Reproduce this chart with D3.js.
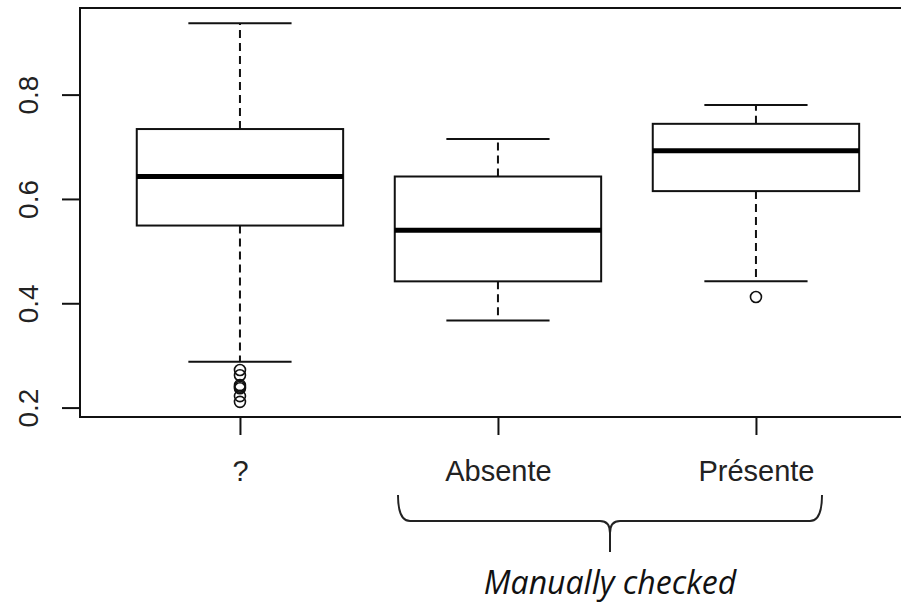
<!DOCTYPE html>
<html>
<head>
<meta charset="utf-8">
<script src="https://cdn.jsdelivr.net/npm/d3@7"></script>
<style>
  html, body { margin: 0; padding: 0; background: #fff; }
  svg { display: block; }
</style>
</head>
<body>
<svg id="chart" width="901" height="602"></svg>
<script>
// Five-number summaries per group (whisker ends, quartiles, median)
const categories   = ["?", "Absente", "Présente"];
const whiskerLow   = [0.288, 0.367, 0.442];
const q1           = [0.549, 0.442, 0.615];
const median       = [0.643, 0.540, 0.6925];
const q3           = [0.734, 0.643, 0.744];
const whiskerHigh  = [0.937, 0.715, 0.780];
const outliers     = [[0.272, 0.262, 0.243, 0.240, 0.237, 0.222, 0.211], [], [0.412]];
const yTicks       = [0.2, 0.4, 0.6, 0.8];
const groupCaption = "Manually checked";

const svg = d3.select("#chart");

// Plot region (right side runs past the canvas edge)
const plotLeft = 80, plotTop = 8, plotBottom = 417, step = 258;

// y domain: data range padded by 4% on each side
const allVals = whiskerLow.concat(whiskerHigh, outliers.flat());
const yMin = d3.min(allVals), yMax = d3.max(allVals);
const pad = (yMax - yMin) * 0.04;
const y = d3.scaleLinear().domain([yMin - pad, yMax + pad]).range([plotBottom, plotTop]);

// x domain: group positions 1..n with padding
const n = categories.length;
const x = d3.scaleLinear().domain([0.38, n + 0.62]).range([plotLeft, plotLeft + (n + 0.24) * step]);

const boxHalf = 0.4, capHalf = 0.2;
const ink = "#111";

const groups = categories.map((c, i) => ({
  name: c, pos: i + 1,
  lo: whiskerLow[i], q1: q1[i], med: median[i], q3: q3[i], hi: whiskerHigh[i],
  out: outliers[i]
}));

const g = svg.append("g");

// whiskers (dashed)
g.selectAll(".whisker-up").data(groups).enter().append("line")
  .attr("x1", d => x(d.pos)).attr("x2", d => x(d.pos))
  .attr("y1", d => y(d.q3)).attr("y2", d => y(d.hi))
  .attr("stroke", ink).attr("stroke-width", 2).attr("stroke-dasharray", "8,5");
g.selectAll(".whisker-down").data(groups).enter().append("line")
  .attr("x1", d => x(d.pos)).attr("x2", d => x(d.pos))
  .attr("y1", d => y(d.q1)).attr("y2", d => y(d.lo))
  .attr("stroke", ink).attr("stroke-width", 2).attr("stroke-dasharray", "8,5");

// whisker caps
["hi", "lo"].forEach(k => {
  g.selectAll(".cap-" + k).data(groups).enter().append("line")
    .attr("x1", d => x(d.pos - capHalf)).attr("x2", d => x(d.pos + capHalf))
    .attr("y1", d => y(d[k])).attr("y2", d => y(d[k]))
    .attr("stroke", ink).attr("stroke-width", 2);
});

// boxes
g.selectAll(".box").data(groups).enter().append("rect")
  .attr("x", d => x(d.pos - boxHalf))
  .attr("width", d => x(d.pos + boxHalf) - x(d.pos - boxHalf))
  .attr("y", d => y(d.q3))
  .attr("height", d => y(d.q1) - y(d.q3))
  .attr("fill", "#fff").attr("stroke", ink).attr("stroke-width", 2);

// medians
g.selectAll(".median").data(groups).enter().append("line")
  .attr("x1", d => x(d.pos - boxHalf)).attr("x2", d => x(d.pos + boxHalf))
  .attr("y1", d => y(d.med)).attr("y2", d => y(d.med))
  .attr("stroke", "#000").attr("stroke-width", 5);

// outlier points
groups.forEach(d => {
  g.selectAll(null).data(d.out).enter().append("circle")
    .attr("cx", x(d.pos)).attr("cy", v => y(v)).attr("r", 5.5)
    .attr("fill", "none").attr("stroke", ink).attr("stroke-width", 1.6);
});

// frame
svg.append("rect")
  .attr("x", plotLeft).attr("y", plotTop)
  .attr("width", x(n + 0.62) - plotLeft).attr("height", plotBottom - plotTop)
  .attr("fill", "none").attr("stroke", ink).attr("stroke-width", 2);

// y axis: ticks and rotated labels
const yAxis = svg.append("g").attr("transform", `translate(${plotLeft},0)`)
  .call(d3.axisLeft(y).tickValues(yTicks).tickSize(18).tickFormat(d3.format(".1f")));
yAxis.select(".domain").remove();
yAxis.selectAll(".tick line").attr("stroke", ink).attr("stroke-width", 2);
yAxis.selectAll(".tick text")
  .attr("x", null).attr("dy", null)
  .attr("transform", "translate(-42,0) rotate(-90)")
  .attr("text-anchor", "middle")
  .attr("fill", "#222")
  .style("font-family", "'Liberation Sans', Arial, sans-serif")
  .style("font-size", "28px");

// x axis: ticks and group labels
const xAxis = svg.append("g").attr("transform", `translate(0,${plotBottom})`)
  .call(d3.axisBottom(x).tickValues(groups.map(d => d.pos)).tickSize(18)
    .tickFormat(v => categories[v - 1]));
xAxis.select(".domain").remove();
xAxis.selectAll(".tick line").attr("stroke", ink).attr("stroke-width", 2);
xAxis.selectAll(".tick text")
  .attr("y", 64).attr("dy", null)
  .attr("fill", "#222")
  .style("font-family", "'Liberation Sans', Arial, sans-serif")
  .style("font-size", "29px");

// curly brace grouping the two checked categories
const bx0 = 398, bx1 = 822, bTop = 495, bLine = 521, bTip = 552;
const bMid = (bx0 + bx1) / 2;
const brace = d3.path();
brace.moveTo(bx0, bTop);
brace.quadraticCurveTo(bx0, bLine, bx0 + 12, bLine);
brace.lineTo(bMid - 10, bLine);
brace.quadraticCurveTo(bMid, bLine, bMid, bLine + 12);
brace.lineTo(bMid, bTip);
brace.moveTo(bMid, bLine + 12);
brace.quadraticCurveTo(bMid, bLine, bMid + 10, bLine);
brace.lineTo(bx1 - 12, bLine);
brace.quadraticCurveTo(bx1, bLine, bx1, bTop);
svg.append("path").attr("d", brace.toString())
  .attr("fill", "none").attr("stroke", "#222").attr("stroke-width", 2);

svg.append("text")
  .attr("x", bMid).attr("y", 594)
  .attr("text-anchor", "middle")
  .attr("fill", "#111")
  .style("font-family", "'Open Sans', 'Noto Sans', sans-serif")
  .style("font-style", "italic")
  .style("font-size", "32px")
  .text(groupCaption);
</script>
</body>
</html>
